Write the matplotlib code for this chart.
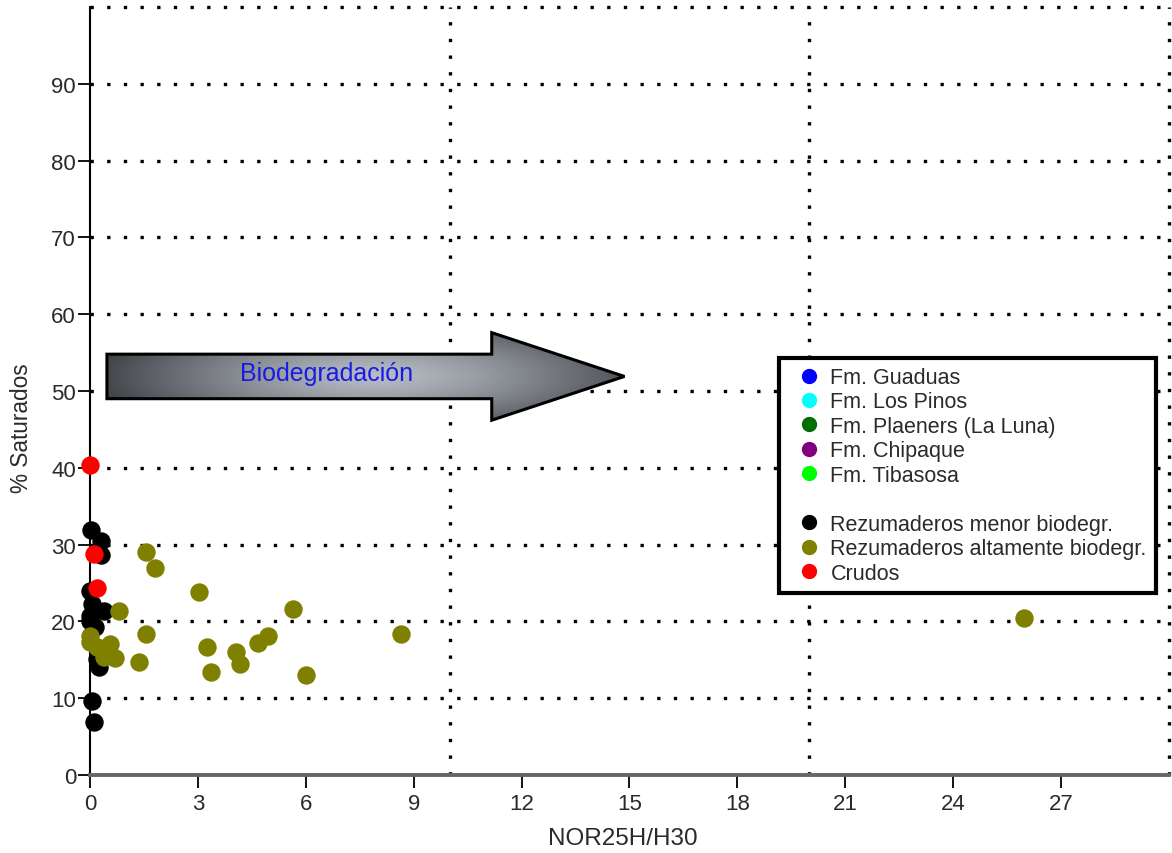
import numpy as np
import matplotlib
matplotlib.use("Agg")
import matplotlib.pyplot as plt
from matplotlib.patches import Polygon
from matplotlib.lines import Line2D

plt.rcParams["font.family"] = ["Liberation Sans", "DejaVu Sans"]

# ---- data -------------------------------------------------------------
x_ticks = [0, 3, 6, 9, 12, 15, 18, 21, 24, 27]
y_ticks = [0, 10, 20, 30, 40, 50, 60, 70, 80, 90]

# Formations (no samples plotted, legend only)
guaduas_x, guaduas_y = [], []
pinos_x, pinos_y = [], []
plaeners_x, plaeners_y = [], []
chipaque_x, chipaque_y = [], []
tibasosa_x, tibasosa_y = [], []

# Seeps, low biodegradation
menor_x = [0.03, 0.3, 0.3, 0.0, 0.05, 0.4, 0.0, 0.0, 0.15, 0.2, 0.25, 0.05, 0.12]
menor_y = [31.9, 30.5, 28.6, 24.0, 22.3, 21.4, 20.7, 20.0, 19.3, 15.1, 14.1, 9.6, 6.9]

# Seeps, highly biodegraded
alta_x = [0.0, 0.0, 0.2, 0.55, 0.4, 0.7, 0.8, 1.55, 1.8, 1.55, 1.37, 3.02,
          3.24, 3.36, 4.07, 4.18, 4.66, 4.95, 5.65, 6.0, 8.66, 25.97]
alta_y = [18.1, 17.3, 16.7, 17.1, 15.4, 15.3, 21.4, 29.1, 27.0, 18.4, 14.7, 23.8,
          16.7, 13.4, 16.0, 14.5, 17.2, 18.1, 21.6, 13.0, 18.4, 20.5]

# Crude oils
crudos_x = [0.0, 0.1, 0.2]
crudos_y = [40.4, 28.8, 24.4]

# ---- figure -----------------------------------------------------------
fig = plt.figure(figsize=(11.72, 8.54), dpi=100)
ax = fig.add_axes([0.0768, 0.0913, 0.9206, 0.8993])
ax.set_xlim(0, 30)
ax.set_ylim(0, 100)

dot = (0, (1, 4))
for yv in range(10, 101, 10):
    ax.axhline(yv, color="black", lw=2.4, ls=dot, zorder=1, clip_on=False)
for xv in (10, 20, 30):
    ax.axvline(xv, color="black", lw=2.4, ls=dot, zorder=1, clip_on=False)

for s in ("top", "right"):
    ax.spines[s].set_visible(False)
ax.spines["left"].set_linewidth(1.5)
ax.spines["bottom"].set_linewidth(2.8)
ax.spines["bottom"].set_color("#666666")

ax.set_xticks(x_ticks)
ax.set_yticks(y_ticks)
ax.tick_params(axis="both", direction="out", length=9, width=1.3,
               labelsize=16, colors="black")
ax.tick_params(axis="x", pad=4)
ax.tick_params(axis="y", pad=1)
for lab in ax.get_xticklabels() + ax.get_yticklabels():
    lab.set_color("#2a2a2a")

ax.set_xlabel("NOR25H/H30", fontsize=17.5, color="#2a2a2a")
ax.xaxis.set_label_coords(0.494, -0.068)
ax.set_ylabel("% Saturados", fontsize=16.3, color="#2a2a2a")
ax.yaxis.set_label_coords(-0.053, 0.453)

# ---- biodegradation arrow with shaded fill ------------------------------
body_x0, head_x0, tip_x = 0.47, 11.17, 14.86
body_y0, body_y1 = 49.0, 54.8
head_y0, head_y1, tip_y = 46.2, 57.6, 51.9
verts = [(body_x0, body_y0), (head_x0, body_y0), (head_x0, head_y0),
         (tip_x, tip_y), (head_x0, head_y1), (head_x0, body_y1),
         (body_x0, body_y1)]
arrow = Polygon(verts, closed=True, facecolor="none", edgecolor="black",
                lw=2.2, zorder=4)
ax.add_patch(arrow)

nu, nv = 400, 120
u = np.linspace(0, 1, nu)
v = np.linspace(0, 1, nv)
U, V = np.meshgrid(u, v)
d = np.sqrt(((U - 0.52) / 0.55) ** 2 + ((V - 0.5) / 0.75) ** 2)
t = np.clip(d, 0, 1) ** 1.3
light = np.array([0.72, 0.74, 0.77])
dark = np.array([0.24, 0.25, 0.27])
img = light[None, None, :] * (1 - t[..., None]) + dark[None, None, :] * t[..., None]
im = ax.imshow(img, extent=(body_x0, tip_x, head_y0, head_y1), origin="lower",
               aspect="auto", zorder=3, interpolation="bilinear")
im.set_clip_path(arrow)
ax.text(6.58, 52.3, "Biodegradación", color="#1a1ae6", fontsize=18,
        ha="center", va="center", zorder=5)
ax.set_xlim(0, 30)
ax.set_ylim(0, 100)

# ---- points -------------------------------------------------------------
ms = 150
series = [
    (guaduas_x, guaduas_y, "#0000ff", "Fm. Guaduas"),
    (pinos_x, pinos_y, "#00ffff", "Fm. Los Pinos"),
    (plaeners_x, plaeners_y, "#006e00", "Fm. Plaeners (La Luna)"),
    (chipaque_x, chipaque_y, "#800080", "Fm. Chipaque"),
    (tibasosa_x, tibasosa_y, "#00ff00", "Fm. Tibasosa"),
]
handles = []
for xs, ys, c, lab in series:
    ax.scatter(xs, ys, s=ms, color=c, zorder=6, clip_on=False)
    handles.append(Line2D([], [], ls="none", marker="o", markersize=10,
                          markerfacecolor=c, markeredgecolor=c, label=lab))
handles.append(Line2D([], [], ls="none", marker="", label=" "))

ax.scatter(menor_x, menor_y, s=ms, color="black", zorder=6, clip_on=False)
ax.scatter(alta_x, alta_y, s=ms, color="#808000", zorder=7, clip_on=False)
ax.scatter(crudos_x, crudos_y, s=ms, color="#ff0000", zorder=8, clip_on=False)
for c, lab in [("black", "Rezumaderos menor biodegr."),
               ("#808000", "Rezumaderos altamente biodegr."),
               ("#ff0000", "Crudos")]:
    handles.append(Line2D([], [], ls="none", marker="o", markersize=10,
                          markerfacecolor=c, markeredgecolor=c, label=lab))

leg = ax.legend(handles=handles, loc="upper left",
                bbox_to_anchor=(0.639, 0.543), fontsize=15.5,
                frameon=True, fancybox=False, handlelength=1.9,
                handletextpad=0.05, labelspacing=0.16, borderpad=0.42,
                borderaxespad=0.0, framealpha=1.0)
leg.get_frame().set_edgecolor("black")
leg.get_frame().set_linewidth(3)
leg.set_zorder(9)
for txt in leg.get_texts():
    txt.set_color("#2a2a2a")

fig.savefig("out.png", dpi=100)
